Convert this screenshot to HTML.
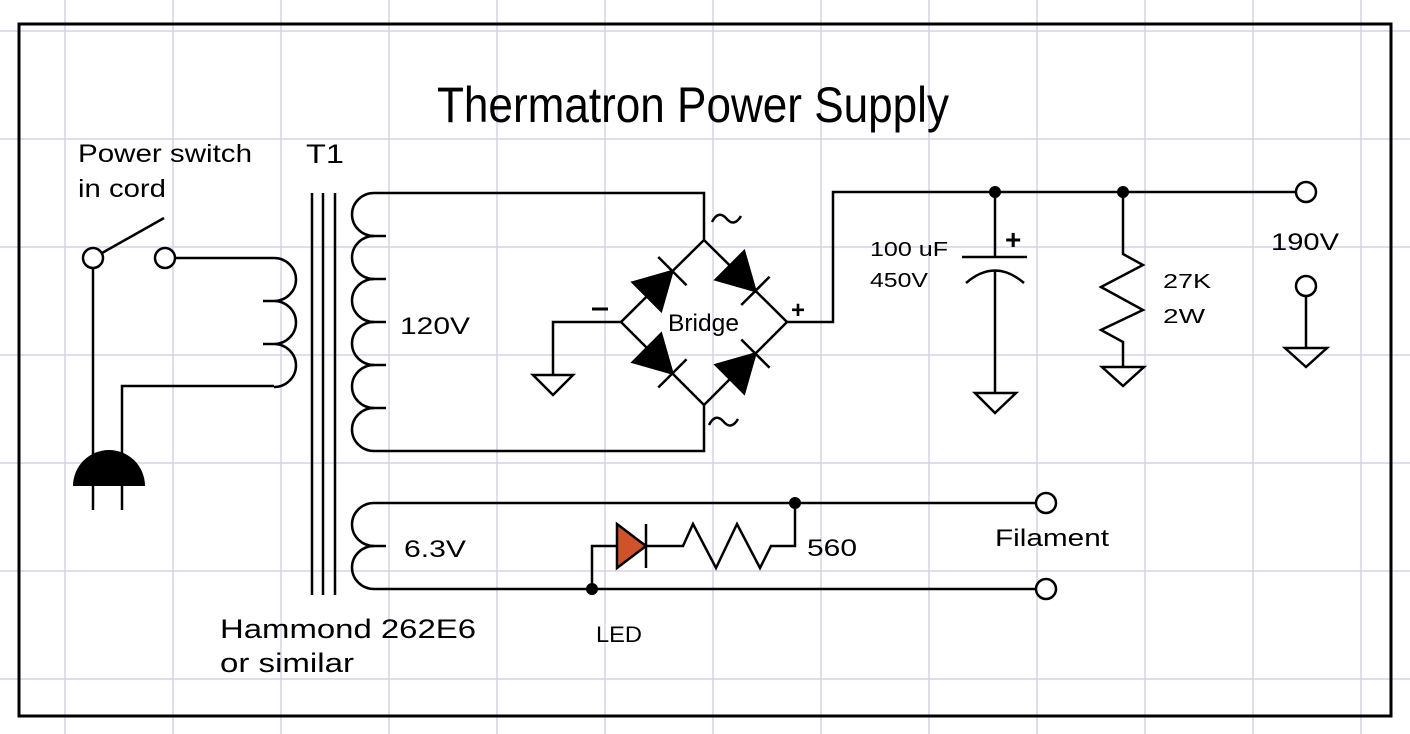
<!DOCTYPE html>
<html><head><meta charset="utf-8"><style>
html,body{margin:0;padding:0;background:#fff;}
svg{display:block;}
text{font-family:"Liberation Sans",Arial,sans-serif;fill:#000;}
</style></head><body>
<svg width="1410" height="734" viewBox="0 0 1410 734" xmlns="http://www.w3.org/2000/svg">
<g stroke="#d3d3e6" stroke-width="1.5">
<line x1="65" y1="0" x2="65" y2="734"/><line x1="173" y1="0" x2="173" y2="734"/><line x1="281" y1="0" x2="281" y2="734"/><line x1="389" y1="0" x2="389" y2="734"/><line x1="497" y1="0" x2="497" y2="734"/><line x1="605" y1="0" x2="605" y2="734"/><line x1="713" y1="0" x2="713" y2="734"/><line x1="821" y1="0" x2="821" y2="734"/><line x1="929" y1="0" x2="929" y2="734"/><line x1="1037" y1="0" x2="1037" y2="734"/><line x1="1145" y1="0" x2="1145" y2="734"/><line x1="1253" y1="0" x2="1253" y2="734"/><line x1="1361" y1="0" x2="1361" y2="734"/>
<line x1="0" y1="31" x2="1410" y2="31"/><line x1="0" y1="139" x2="1410" y2="139"/><line x1="0" y1="247" x2="1410" y2="247"/><line x1="0" y1="355" x2="1410" y2="355"/><line x1="0" y1="463" x2="1410" y2="463"/><line x1="0" y1="571" x2="1410" y2="571"/><line x1="0" y1="679" x2="1410" y2="679"/>
</g>
<rect x="19" y="24" width="1372" height="692" fill="none" stroke="#000" stroke-width="3"/>

<g fill="none" stroke="#000" stroke-width="2.5">
<!-- switch -->
<circle cx="93" cy="258" r="10" fill="#fff"/>
<circle cx="165" cy="258" r="10" fill="#fff"/>
<line x1="102" y1="253" x2="164" y2="218"/>
<line x1="175" y1="258" x2="274" y2="258"/>
<path d="M274 258 A22 21.5 0 0 1 274 301 A22 21.5 0 0 1 274 344 A22 21.5 0 0 1 274 387"/>
<line x1="263" y1="301" x2="274" y2="301"/><line x1="263" y1="344" x2="274" y2="344"/>
<polyline points="274,386 122,386 122,470"/>
<line x1="93" y1="268" x2="93" y2="470"/>
<line x1="93" y1="484" x2="93" y2="510"/><line x1="122" y1="484" x2="122" y2="510"/>
<!-- core -->
<line x1="312" y1="193" x2="312" y2="595"/><line x1="323" y1="193" x2="323" y2="595"/><line x1="335" y1="193" x2="335" y2="595"/>
<!-- 120V secondary -->
<path d="M374 193 A22 21.5 0 0 0 374 236 A22 21.5 0 0 0 374 279 A22 21.5 0 0 0 374 322 A22 21.5 0 0 0 374 365 A22 21.5 0 0 0 374 408 A22 21.5 0 0 0 374 451"/>
<line x1="372" y1="236" x2="386" y2="236"/><line x1="372" y1="279" x2="386" y2="279"/><line x1="372" y1="322" x2="386" y2="322"/><line x1="372" y1="365" x2="386" y2="365"/><line x1="372" y1="408" x2="386" y2="408"/>
<polyline points="374,193 704,193 704,240"/>
<polyline points="374,451 704,451 704,405"/>
<!-- 6.3V -->
<path d="M374 503 A22 21.5 0 0 0 374 546 A22 21.5 0 0 0 374 589"/>
<line x1="372" y1="546" x2="386" y2="546"/>
<line x1="374" y1="503" x2="1036" y2="503"/>
<line x1="374" y1="589" x2="1036" y2="589"/>
<circle cx="1046" cy="503" r="10" fill="#fff"/>
<circle cx="1046" cy="589" r="10" fill="#fff"/>
<polyline points="592,589 592,546 617,546"/>
<polyline points="646,546 683,546 693,524 716,568 737,524 760,568 771,546 795,546 795,503"/>
<line x1="646" y1="524" x2="646" y2="568"/>
<!-- bridge -->
<polygon points="621,322 704,240 787,322 704,405"/>
<polyline points="621,322 553,322 553,375"/>
<polygon points="533,375 573,375 553,395"/>
<polyline points="787,322 833,322 833,192 1296,192"/>
<circle cx="1306" cy="192" r="10" fill="#fff"/>
<!-- cap -->
<line x1="995" y1="192" x2="995" y2="257"/>
<line x1="962" y1="257" x2="1027" y2="257"/>
<path d="M966 283 Q995 258 1024 283"/>
<line x1="995" y1="271" x2="995" y2="393"/>
<polygon points="975,393 1016,393 995,413"/>
<!-- resistor -->
<polyline points="1123,192 1123,254 1143,265 1101,287 1143,310 1101,330 1123,342 1123,367"/>
<polygon points="1102,367 1144,367 1123,386"/>
<!-- 190V ground terminal -->
<circle cx="1306" cy="286" r="10" fill="#fff"/>
<line x1="1306" y1="296" x2="1306" y2="348"/>
<polygon points="1285,348 1327,348 1306,367"/>
</g>
<!-- plug -->
<path d="M73 486 A36 36 0 0 1 145 486 Z" fill="#000"/>
<!-- LED triangle -->
<polygon points="617,524 617,568 646,546" fill="#d0522a" stroke="#000" stroke-width="2.5"/>
<!-- dots -->
<g fill="#000">
<circle cx="592" cy="589" r="6"/><circle cx="795" cy="503" r="6"/>
<circle cx="995" cy="192" r="6"/><circle cx="1123" cy="192" r="6"/>
</g>
<!-- diodes -->
<g stroke="#000" stroke-width="2.5" fill="#000">
<g transform="translate(662.5,281) rotate(-45)"><polygon points="-22,-20 -22,20 14,0"/><line x1="14" y1="-20" x2="14" y2="20"/></g>
<g transform="translate(745.5,281) rotate(45)"><polygon points="-22,-20 -22,20 14,0"/><line x1="14" y1="-20" x2="14" y2="20"/></g>
<g transform="translate(662.5,363.5) rotate(45)"><polygon points="-22,-20 -22,20 14,0"/><line x1="14" y1="-20" x2="14" y2="20"/></g>
<g transform="translate(745.5,363.5) rotate(-45)"><polygon points="-22,-20 -22,20 14,0"/><line x1="14" y1="-20" x2="14" y2="20"/></g>
</g>
<!-- text -->
<text x="437" y="122" font-size="50" textLength="512" lengthAdjust="spacingAndGlyphs">Thermatron Power Supply</text>
<text x="78" y="162" font-size="25" textLength="174" lengthAdjust="spacingAndGlyphs">Power switch</text>
<text x="78" y="197" font-size="25" textLength="88" lengthAdjust="spacingAndGlyphs">in cord</text>
<text x="306" y="163" font-size="27" textLength="38" lengthAdjust="spacingAndGlyphs">T1</text>
<text x="400" y="334" font-size="24" textLength="70" lengthAdjust="spacingAndGlyphs">120V</text>
<text x="404" y="557" font-size="24" textLength="62" lengthAdjust="spacingAndGlyphs">6.3V</text>
<text x="807" y="556" font-size="24" textLength="50" lengthAdjust="spacingAndGlyphs">560</text>
<text x="995" y="546" font-size="24" textLength="114" lengthAdjust="spacingAndGlyphs">Filament</text>
<text x="596" y="642" font-size="22" textLength="46" lengthAdjust="spacingAndGlyphs">LED</text>
<text x="220" y="638" font-size="27" textLength="256" lengthAdjust="spacingAndGlyphs">Hammond 262E6</text>
<text x="220" y="672" font-size="27" textLength="134" lengthAdjust="spacingAndGlyphs">or similar</text>
<text x="1271" y="250" font-size="24" textLength="68" lengthAdjust="spacingAndGlyphs">190V</text>
<text x="870" y="256" font-size="20" textLength="78" lengthAdjust="spacingAndGlyphs">100 uF</text>
<text x="870" y="287" font-size="20" textLength="58" lengthAdjust="spacingAndGlyphs">450V</text>
<text x="1163" y="288" font-size="20" textLength="48" lengthAdjust="spacingAndGlyphs">27K</text>
<text x="1163" y="323" font-size="20" textLength="42" lengthAdjust="spacingAndGlyphs">2W</text>
<text x="668" y="331" font-size="24" textLength="71" lengthAdjust="spacingAndGlyphs">Bridge</text>
<text x="1005" y="249" font-size="28" font-weight="bold">+</text>
<text x="791" y="318" font-size="24" font-weight="bold">+</text>
<line x1="592" y1="309" x2="608" y2="309" stroke="#000" stroke-width="3"/>
<path d="M712 222 Q718 210 726 218 Q734 228 741 216" fill="none" stroke="#000" stroke-width="2.5"/>
<path d="M709 425 Q715 413 723 421 Q731 431 738 419" fill="none" stroke="#000" stroke-width="2.5"/>
</svg>
</body></html>
